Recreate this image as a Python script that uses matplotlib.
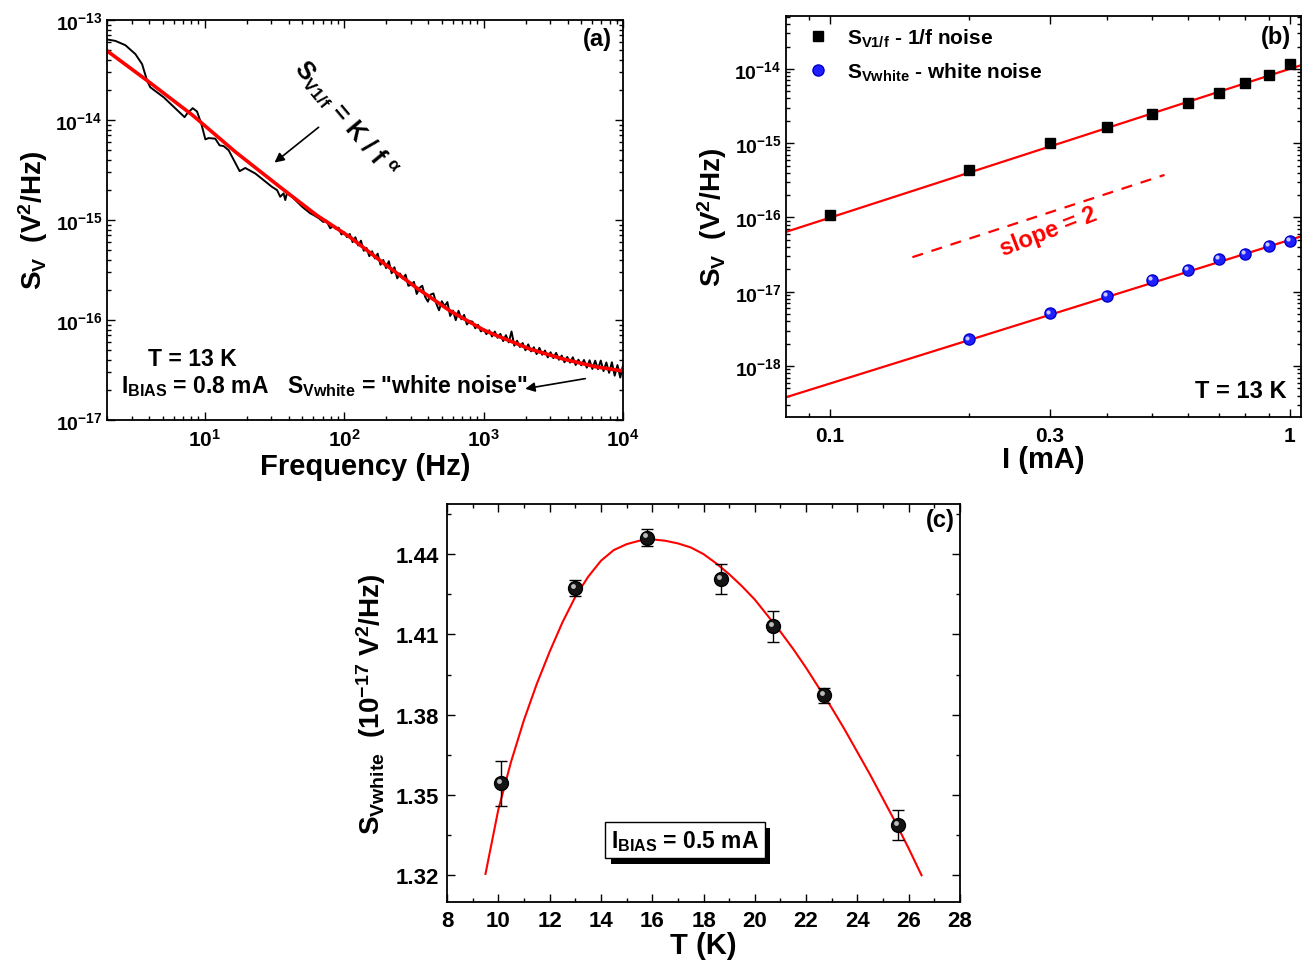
import numpy as np
import matplotlib
matplotlib.use("Agg")
import matplotlib.pyplot as plt
from matplotlib import patheffects
from matplotlib.transforms import offset_copy
from matplotlib.ticker import (LogLocator, FixedLocator, NullFormatter, MultipleLocator,
                               FormatStrFormatter)

plt.rcParams['font.family'] = ['Liberation Sans', 'DejaVu Sans']
plt.rcParams['font.weight'] = 'bold'
plt.rcParams['axes.labelweight'] = 'bold'
plt.rcParams['mathtext.fontset'] = 'custom'
plt.rcParams['mathtext.rm'] = 'Liberation Sans:bold'
plt.rcParams['mathtext.it'] = 'Liberation Sans:bold'
plt.rcParams['mathtext.bf'] = 'Liberation Sans:bold'
plt.rcParams['mathtext.sf'] = 'Liberation Sans:bold'

# ---- (a) noise spectrum, log10 values ----
spec_logf = [0.287, 0.358, 0.430, 0.502, 0.550, 0.586, 0.609, 0.705, 0.855, 0.872,
             0.913, 0.944, 0.975, 1.004, 1.027, 1.075, 1.106, 1.135, 1.171, 1.250,
             1.290, 1.362, 1.482, 1.518, 1.541, 1.565, 1.577, 1.589, 1.625, 1.700,
             1.756, 1.780, 1.820, 1.850, 1.870, 1.900, 1.920,
             1.94, 1.96, 1.98, 2.00, 2.02, 2.04, 2.06, 2.08, 2.10, 2.12, 2.14, 2.16,
             2.18, 2.20, 2.22, 2.24, 2.26, 2.28, 2.30, 2.32, 2.34, 2.36, 2.38, 2.40,
             2.42, 2.44, 2.46, 2.48, 2.50, 2.52, 2.54, 2.56, 2.58, 2.60, 2.62, 2.64,
             2.66, 2.68, 2.70, 2.72, 2.74, 2.76, 2.78, 2.80, 2.82, 2.84, 2.86, 2.88,
             2.90, 2.92, 2.94, 2.96, 2.98, 3.00, 3.02, 3.04, 3.06, 3.08, 3.10, 3.12,
             3.14, 3.16, 3.18, 3.20, 3.22, 3.24, 3.26, 3.28, 3.30, 3.32, 3.34, 3.36,
             3.38, 3.40, 3.42, 3.44, 3.46, 3.48, 3.50, 3.52, 3.54, 3.56, 3.58, 3.60,
             3.62, 3.64, 3.66, 3.68, 3.70, 3.72, 3.74, 3.76, 3.78, 3.80, 3.82, 3.84,
             3.86, 3.88, 3.90, 3.92, 3.94, 3.96, 3.98, 4.00]
spec_logs = [-13.192, -13.209, -13.252, -13.341, -13.441, -13.607, -13.673, -13.773, -13.972, -13.938,
             -13.882, -13.915, -14.038, -14.194, -14.181, -14.187, -14.254, -14.261, -14.303, -14.512,
             -14.480, -14.535, -14.669, -14.701, -14.768, -14.734, -14.801, -14.734, -14.768, -14.870,
             -14.933, -14.950, -14.985, -15.020, -15.005, -15.083, -15.060,
             -15.088, -15.077, -15.145, -15.123, -15.172, -15.140, -15.222, -15.173, -15.255, -15.207, -15.308, -15.280,
             -15.362, -15.313, -15.385, -15.337, -15.448, -15.400, -15.481, -15.412, -15.533, -15.473, -15.584, -15.535,
             -15.586, -15.547, -15.658, -15.648, -15.619, -15.740, -15.679, -15.658, -15.767, -15.817, -15.746, -15.735,
             -15.834, -15.903, -15.813, -15.862, -15.821, -15.960, -15.906, -16.002, -15.908, -15.993, -15.949, -16.045,
             -16.011, -16.017, -16.083, -16.048, -16.114, -16.090, -16.142, -16.103, -16.165, -16.116, -16.178, -16.139,
             -16.211, -16.152, -16.224, -16.115, -16.257, -16.208, -16.270, -16.231, -16.303, -16.244, -16.314, -16.273,
             -16.341, -16.279, -16.348, -16.306, -16.374, -16.323, -16.381, -16.329, -16.398, -16.356, -16.423, -16.370,
             -16.427, -16.373, -16.450, -16.397, -16.453, -16.400, -16.477, -16.403, -16.490, -16.407, -16.492, -16.406,
             -16.511, -16.425, -16.529, -16.423, -16.557, -16.451, -16.576, -16.450]

fit_logf = [0.29, 0.60, 0.91, 1.22, 1.53, 1.80, 2.04, 2.28, 2.52, 2.76, 3.00, 3.10, 3.19,
            3.33, 3.57, 3.81, 4.00]
fit_logs = [-13.30, -13.62, -13.95, -14.32, -14.66, -14.95, -15.17, -15.43, -15.68, -15.91,
            -16.10, -16.16, -16.21, -16.29, -16.39, -16.47, -16.51]

# ---- (b) current dependence ----
I_1f = [0.1, 0.2, 0.3, 0.4, 0.5, 0.6, 0.7, 0.8, 0.9, 1.0]
S_1f = [1.07e-16, 4.37e-16, 1.0e-15, 1.63e-15, 2.47e-15, 3.44e-15, 4.7e-15, 6.47e-15, 8.3e-15, 1.17e-14]
I_wh = [0.2, 0.3, 0.4, 0.5, 0.6, 0.7, 0.8, 0.9, 1.0]
S_wh = [2.28e-18, 5.1e-18, 8.7e-18, 1.45e-17, 1.94e-17, 2.73e-17, 3.18e-17, 4.08e-17, 4.82e-17]
fit1f_I = [0.0802, 1.061]
fit1f_S = [6.4e-17, 1.13e-14]
fitwh_I = [0.0802, 1.061]
fitwh_S = [3.8e-19, 5.6e-17]
slope_I = [0.151, 0.5336]
slope_S = [2.92e-17, 3.74e-16]

# ---- (c) temperature dependence ----
T_pts = [10.1, 13.0, 15.8, 18.7, 20.7, 22.7, 25.6]
Sw_pts = [1.3544, 1.4274, 1.4462, 1.4307, 1.4130, 1.3873, 1.3387]
Sw_err = [0.0084, 0.0029, 0.0030, 0.0057, 0.0057, 0.0028, 0.0056]
T_fit = [9.5, 10.0, 10.5, 11.0, 11.5, 12.0, 12.5, 13.0, 13.5, 14.0, 14.5, 15.0, 15.5, 16.0,
         16.5, 17.0, 17.5, 18.0, 18.5, 19.0, 19.5, 20.0, 20.5, 21.0, 21.5, 22.0, 22.5, 23.0,
         23.5, 24.0, 24.5, 25.0, 25.5, 26.0, 26.5]
Sw_fit = [1.3205, 1.3445, 1.3625, 1.3780, 1.3915, 1.4035, 1.4145, 1.4240, 1.4315, 1.4375,
          1.4415, 1.4437, 1.4450, 1.4455, 1.4450, 1.4440, 1.4425, 1.4400, 1.4365, 1.4325,
          1.4280, 1.4230, 1.4170, 1.4110, 1.4045, 1.3975, 1.3900, 1.3825, 1.3745, 1.3660,
          1.3575, 1.3485, 1.3395, 1.3300, 1.3200]

TICK = 15
LAB = 21
ANN = 16.5
RED = '#ff0000'


def style_axis(ax):
    for s in ax.spines.values():
        s.set_linewidth(1.3)
    ax.tick_params(which='both', direction='in', top=True, right=True, labelsize=TICK, width=1.0)
    ax.tick_params(which='major', length=5.5)
    ax.tick_params(which='minor', length=3)
    ax.tick_params(axis='x', pad=6)


fig = plt.figure(figsize=(13.04, 9.62), dpi=100)

# ================= (a) =================
ax1 = fig.add_axes([0.0821, 0.5624, 0.3957, 0.4158])
freq = 10 ** np.array(spec_logf)
sv = 10 ** np.array(spec_logs)
ax1.plot(freq, sv, color='black', lw=1.4)
ax1.plot(10 ** np.array(fit_logf), 10 ** np.array(fit_logs), color=RED, lw=2.6)
ax1.set_xscale('log')
ax1.set_yscale('log')
ax1.set_xlim(1.99, 1e4)
ax1.set_ylim(1e-17, 1e-13)
ax1.yaxis.set_major_locator(FixedLocator([1e-17, 1e-16, 1e-15, 1e-14, 1e-13]))
ax1.xaxis.set_minor_locator(LogLocator(base=10, subs=np.arange(2, 10)))
ax1.yaxis.set_minor_locator(LogLocator(base=10, subs=np.arange(2, 10)))
ax1.xaxis.set_minor_formatter(NullFormatter())
ax1.yaxis.set_minor_formatter(NullFormatter())
style_axis(ax1)
ax1.tick_params(axis='y', labelsize=14)
ax1.set_xlabel('Frequency (Hz)', fontsize=LAB, labelpad=1)
ax1.set_ylabel(r'S$_{V}$  (V$^{2}$/Hz)', fontsize=20, labelpad=4)
ax1.text(0.951, 0.953, '(a)', transform=ax1.transAxes, fontsize=17, ha='center', va='center')
ax1.text(101.6, 1.035e-14, r'S$_{V1/f}$ = K / f $^{\alpha}$', fontsize=18, rotation=-50,
         ha='center', va='center', rotation_mode='anchor')
ax1.annotate('', xy=(30.5, 3.6e-15), xytext=(67.9, 8.8e-15),
             arrowprops=dict(arrowstyle='-|>', color='black', lw=1.2, mutation_scale=14))
ax1.text(8.2, 3.55e-17, 'T = 13 K', fontsize=ANN, ha='center', va='baseline')
ax1.text(2.5, 1.9e-17, r'I$_{BIAS}$ = 0.8 mA', fontsize=ANN, ha='left', va='baseline')
ax1.text(39.0, 1.9e-17, r'S$_{Vwhite}$ = "white noise"', fontsize=ANN, ha='left', va='baseline')
ax1.annotate('', xy=(1900, 2.03e-17), xytext=(5610, 2.62e-17),
             arrowprops=dict(arrowstyle='-|>', color='black', lw=1.2, mutation_scale=14))

# ================= (b) =================
ax2 = fig.add_axes([0.6028, 0.5650, 0.3949, 0.4174])
ax2.plot(fit1f_I, fit1f_S, color=RED, lw=1.6)
ax2.plot(fitwh_I, fitwh_S, color=RED, lw=1.6)
ax2.plot(slope_I, slope_S, color=RED, lw=1.6, ls=(0, (5, 4)))
ax2.plot(I_1f, S_1f, 's', color='black', ms=7.5, label=r'S$_{V1/f}$ - 1/f noise')
ax2.plot(I_wh, S_wh, 'o', mfc='#1f1fff', mec='#0000c8', ms=8, label=r'S$_{Vwhite}$ - white noise')
hl2 = offset_copy(ax2.transData, fig=fig, x=-1.4, y=1.4, units='points')
ax2.plot(I_wh, S_wh, 'o', mfc='#c8c8ff', mec='none', ms=3, transform=hl2)
ax2.set_xscale('log')
ax2.set_yscale('log')
ax2.set_xlim(0.0802, 1.057)
ax2.set_ylim(2.03e-19, 5.17e-14)
ax2.set_xticks([0.1, 0.3, 1])
ax2.set_xticklabels(['0.1', '0.3', '1'])
ax2.xaxis.set_minor_locator(LogLocator(base=10, subs=np.arange(2, 10)))
ax2.xaxis.set_minor_formatter(NullFormatter())
ax2.yaxis.set_major_locator(FixedLocator([1e-18, 1e-17, 1e-16, 1e-15, 1e-14]))
ax2.yaxis.set_minor_locator(LogLocator(base=10, subs=np.arange(2, 10), numticks=20))
ax2.yaxis.set_minor_formatter(NullFormatter())
style_axis(ax2)
ax2.tick_params(axis='y', labelsize=14)
ax2.set_xlabel('I (mA)', fontsize=LAB, labelpad=0)
ax2.set_ylabel(r'S$_{V}$  (V$^{2}$/Hz)', fontsize=20, labelpad=4)
ax2.legend(loc='upper left', bbox_to_anchor=(0.01, 1.015), frameon=False, fontsize=TICK,
           handlelength=1.0, handletextpad=0.9, labelspacing=0.55, borderaxespad=0.4)
ax2.text(0.951, 0.950, '(b)', transform=ax2.transAxes, fontsize=17, ha='center', va='center')
ax2.text(0.883, 0.066, 'T = 13 K', transform=ax2.transAxes, fontsize=17, ha='center', va='center')
ax2.text(0.298, 6.6e-17, 'slope = 2', color=RED, fontsize=17, rotation=21,
         ha='center', va='center', rotation_mode='anchor')

# ================= (c) =================
ax3 = fig.add_axes([0.3428, 0.0613, 0.3934, 0.4137])
ax3.plot(T_fit, Sw_fit, color=RED, lw=1.5)
ax3.errorbar(T_pts, Sw_pts, yerr=Sw_err, fmt='none', ecolor='black', elinewidth=1,
             capsize=4, capthick=1)
ax3.plot(T_pts, Sw_pts, 'o', mfc='#141414', mec='black', ms=10)
hl3 = offset_copy(ax3.transData, fig=fig, x=-1.6, y=1.6, units='points')
ax3.plot(T_pts, Sw_pts, 'o', mfc='#bcbcbc', mec='none', ms=3.5, transform=hl3)
ax3.set_xlim(8, 28)
ax3.set_ylim(1.31, 1.4587)
ax3.xaxis.set_major_locator(MultipleLocator(2))
ax3.xaxis.set_minor_locator(MultipleLocator(1))
ax3.yaxis.set_major_locator(MultipleLocator(0.03))
ax3.yaxis.set_minor_locator(MultipleLocator(0.015))
ax3.yaxis.set_major_formatter(FormatStrFormatter('%.2f'))
style_axis(ax3)
ax3.tick_params(labelsize=16)
ax3.tick_params(axis='y', pad=6)
ax3.set_xlabel('T (K)', fontsize=LAB, labelpad=0)
ax3.set_ylabel(r'S$_{Vwhite}$  (10$^{-17}$ V$^{2}$/Hz)', fontsize=20, labelpad=5)
ax3.text(0.961, 0.962, '(c)', transform=ax3.transAxes, fontsize=17, ha='center', va='center')
box = ax3.text(17.28, 1.3331, r'I$_{BIAS}$ = 0.5 mA', fontsize=ANN, ha='center', va='center',
               bbox=dict(boxstyle='square,pad=0.25', fc='white', ec='black', lw=1.0))
box.get_bbox_patch().set_path_effects([
    patheffects.SimplePatchShadow(offset=(4, -4), shadow_rgbFace='black', alpha=1.0),
    patheffects.Normal()])

fig.savefig('out.png', dpi=100)
